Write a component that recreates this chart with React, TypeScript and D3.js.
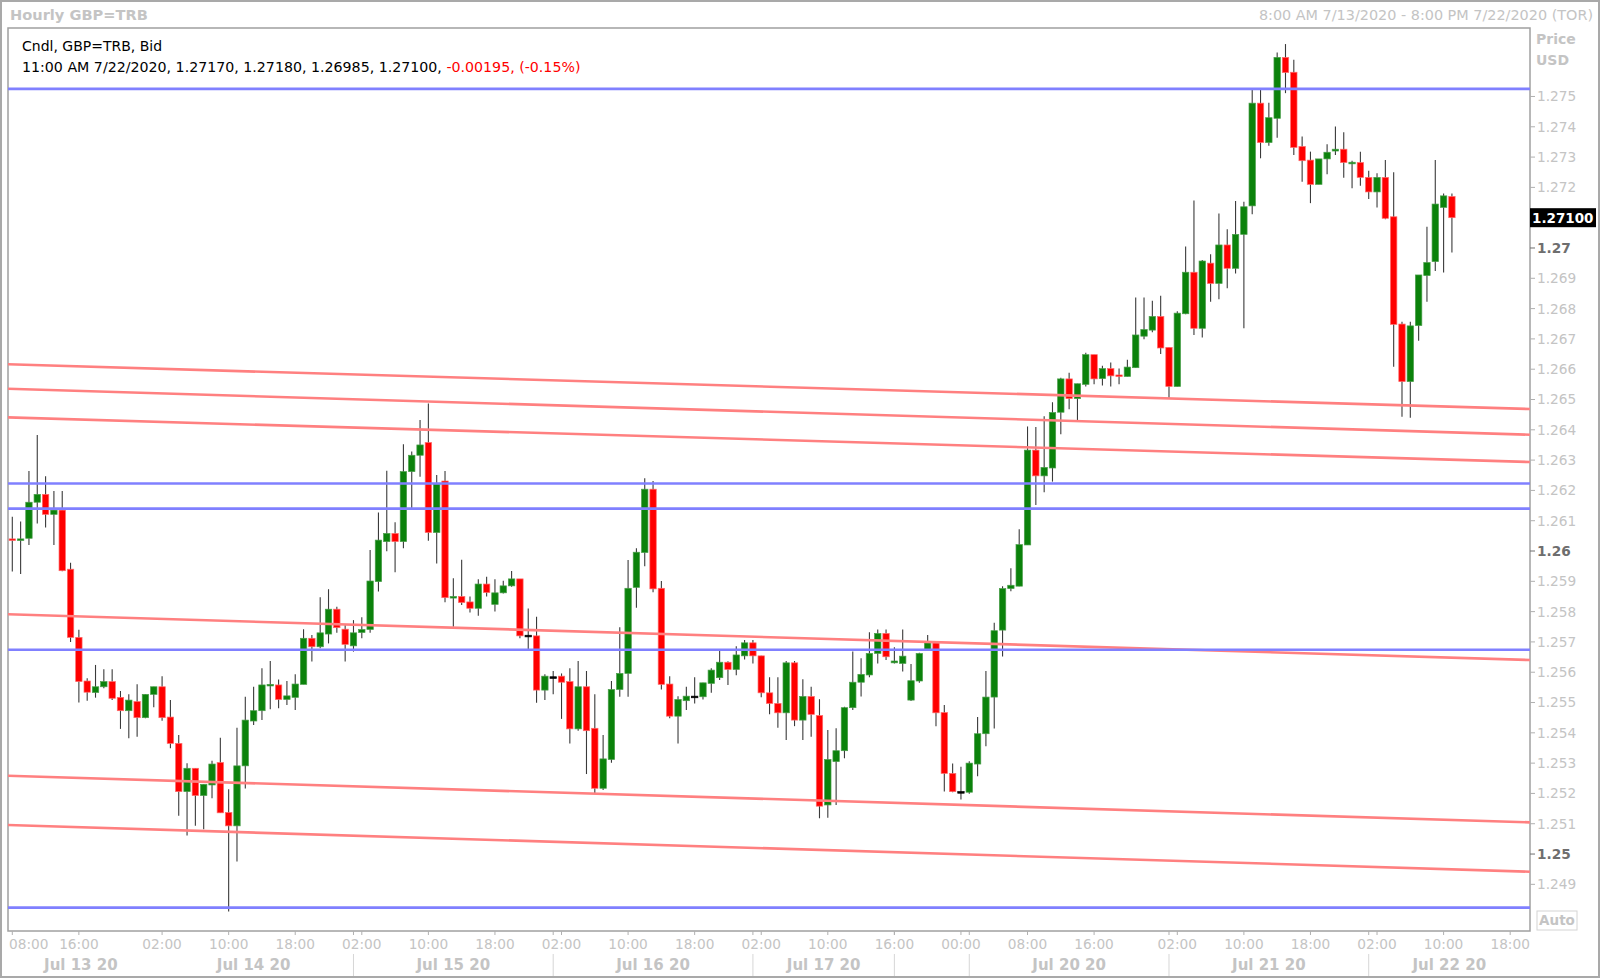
import * as d3 from 'd3'

// hourly candles, GBP=TRB bid, 08:00 Jul 13 -> 11:00 Jul 22 (weekend gap removed)
const opens = [
  1.2604, 1.26039, 1.26042, 1.26161, 1.26187, 1.26121, 1.26135, 1.2594, 1.25715, 1.25571,
  1.25533, 1.25552, 1.25569, 1.25517, 1.25473, 1.25503, 1.2545, 1.25527, 1.25552, 1.25452,
  1.25365, 1.25206, 1.25283, 1.25193, 1.25228, 1.25302, 1.25137, 1.25093, 1.25291, 1.25439,
  1.25473, 1.25558, 1.25558, 1.2551, 1.25517, 1.2556, 1.25712, 1.25684, 1.25726, 1.25808,
  1.25742, 1.25687, 1.25731, 1.25741, 1.25899, 1.26031, 1.26058, 1.26031, 1.26262, 1.26316,
  1.26358, 1.26061, 1.26231, 1.25846, 1.2585, 1.25832, 1.25811, 1.25891, 1.25824, 1.25862,
  1.25885, 1.25908, 1.25722, 1.2572, 1.25541, 1.25585, 1.25587, 1.25569, 1.25413, 1.25552,
  1.25415, 1.25217, 1.25312, 1.25543, 1.25596, 1.2588, 1.25995, 1.26204, 1.25877, 1.25561,
  1.25455, 1.25506, 1.25521, 1.25519, 1.25563, 1.25582, 1.25633, 1.25609, 1.25654, 1.25697,
  1.25654, 1.25532, 1.25497, 1.25466, 1.25631, 1.25442, 1.2552, 1.25457, 1.25162, 1.25305,
  1.25341, 1.25483, 1.25567, 1.25591, 1.25662, 1.25728, 1.25631, 1.25629, 1.25508, 1.25571,
  1.25675, 1.25697, 1.25467, 1.25266, 1.25206, 1.25204, 1.25297, 1.25397, 1.25518, 1.25739,
  1.25876, 1.25884, 1.2602, 1.26333, 1.26248, 1.26274, 1.26458, 1.26568, 1.26503, 1.2655,
  1.26648, 1.26569, 1.26602, 1.26581, 1.26576, 1.26605, 1.26709, 1.26729, 1.26774, 1.26672,
  1.26543, 1.26783, 1.2692, 1.26735, 1.2695, 1.26883, 1.2701, 1.26933, 1.27045, 1.27139,
  1.27478, 1.27348, 1.27428, 1.27629, 1.2758, 1.27335, 1.2729, 1.2721, 1.27294, 1.2732,
  1.27326, 1.2728, 1.27282, 1.27233, 1.27185, 1.27233, 1.27103, 1.26749, 1.26559, 1.26744,
  1.26909, 1.26955, 1.27134, 1.2717,
]
const highs = [
  1.26113, 1.26097, 1.26264, 1.26383, 1.26247, 1.26198, 1.26198, 1.25961, 1.2574, 1.2558,
  1.25624, 1.2561, 1.2561, 1.25538, 1.25527, 1.2556, 1.25527, 1.25552, 1.25587, 1.25508,
  1.25393, 1.253, 1.25283, 1.2523, 1.25308, 1.25384, 1.25214, 1.25417, 1.25519, 1.25552,
  1.25613, 1.25637, 1.25576, 1.25571, 1.25593, 1.25742, 1.25723, 1.25847, 1.25874, 1.25816,
  1.25756, 1.25772, 1.25781, 1.26003, 1.26127, 1.26265, 1.26095, 1.26352, 1.26328, 1.26432,
  1.26487, 1.26251, 1.26264, 1.2591, 1.25971, 1.2585, 1.25907, 1.25915, 1.25907, 1.25902,
  1.25934, 1.25908, 1.2581, 1.25783, 1.25593, 1.25604, 1.25596, 1.25613, 1.25637, 1.25604,
  1.25527, 1.25393, 1.25571, 1.25748, 1.2597, 1.26009, 1.2624, 1.26231, 1.25901, 1.25587,
  1.25521, 1.25552, 1.25583, 1.25565, 1.25613, 1.2567, 1.25636, 1.25686, 1.25706, 1.25706,
  1.25654, 1.25583, 1.25583, 1.25637, 1.25637, 1.25577, 1.25552, 1.25511, 1.25409, 1.25415,
  1.25486, 1.25668, 1.25646, 1.25732, 1.25741, 1.25741, 1.25682, 1.25741, 1.25627, 1.25664,
  1.25723, 1.25697, 1.25492, 1.25299, 1.25288, 1.25306, 1.25452, 1.25604, 1.25763, 1.25884,
  1.25943, 1.26072, 1.26411, 1.26409, 1.26445, 1.26491, 1.26572, 1.26588, 1.26552, 1.26654,
  1.26648, 1.26611, 1.26622, 1.26602, 1.26631, 1.26837, 1.26837, 1.26826, 1.26842, 1.26672,
  1.26791, 1.27005, 1.27157, 1.2696, 1.26979, 1.27114, 1.27062, 1.27155, 1.27153, 1.27524,
  1.27524, 1.27479, 1.27645, 1.27673, 1.27621, 1.27368, 1.27318, 1.27294, 1.27342, 1.27401,
  1.27382, 1.27288, 1.27318, 1.27255, 1.27247, 1.2729, 1.2725, 1.26757, 1.26757, 1.26911,
  1.2707, 1.2729, 1.2718, 1.2718,
]
const lows = [
  1.25932, 1.25924, 1.2602, 1.26091, 1.26078, 1.2602, 1.25933, 1.257, 1.255, 1.25506,
  1.25516, 1.25547, 1.25508, 1.25413, 1.25382, 1.25387, 1.25448, 1.25484, 1.2544, 1.25349,
  1.25126, 1.25061, 1.25093, 1.25082, 1.25184, 1.25136, 1.2481, 1.24975, 1.25216, 1.25426,
  1.25442, 1.25478, 1.25481, 1.25492, 1.25475, 1.2556, 1.25635, 1.25679, 1.25695, 1.2573,
  1.25635, 1.25668, 1.25712, 1.2573, 1.25866, 1.25999, 1.2593, 1.26009, 1.26141, 1.26245,
  1.26034, 1.25959, 1.25831, 1.2575, 1.25822, 1.25797, 1.25786, 1.2585, 1.258, 1.2586,
  1.25882, 1.25712, 1.25677, 1.25499, 1.25508, 1.25527, 1.25446, 1.25365, 1.25407, 1.25264,
  1.252, 1.25211, 1.25301, 1.25519, 1.25519, 1.25813, 1.2595, 1.25864, 1.25543, 1.25448,
  1.25365, 1.25475, 1.25497, 1.2551, 1.25532, 1.25574, 1.25558, 1.2559, 1.25642, 1.25629,
  1.25517, 1.25461, 1.25417, 1.25376, 1.25422, 1.25376, 1.25387, 1.25118, 1.2512, 1.25162,
  1.25316, 1.25475, 1.2552, 1.25583, 1.25629, 1.2564, 1.25629, 1.25602, 1.25505, 1.25565,
  1.25673, 1.25422, 1.25206, 1.25204, 1.2518, 1.25199, 1.25257, 1.25356, 1.25414, 1.25652,
  1.25867, 1.25884, 1.2602, 1.26152, 1.26194, 1.26229, 1.26385, 1.26468, 1.26432, 1.26543,
  1.2655, 1.26546, 1.26543, 1.2655, 1.26576, 1.26605, 1.26699, 1.26722, 1.2665, 1.26503,
  1.26543, 1.26781, 1.26713, 1.26705, 1.26823, 1.26831, 1.26867, 1.26916, 1.26735, 1.27111,
  1.27296, 1.27337, 1.27364, 1.27511, 1.27307, 1.27219, 1.27148, 1.2721, 1.27243, 1.27307,
  1.27232, 1.27197, 1.27205, 1.27162, 1.27134, 1.27095, 1.26608, 1.26443, 1.2644, 1.26694,
  1.26823, 1.26924, 1.26919, 1.26985,
]
const closes = [
  1.26038, 1.2604, 1.26161, 1.26187, 1.26121, 1.26135, 1.25935, 1.25715, 1.25569, 1.25534,
  1.25552, 1.25569, 1.25514, 1.25473, 1.25508, 1.2545, 1.25527, 1.25552, 1.2545, 1.25365,
  1.25206, 1.25283, 1.25193, 1.2523, 1.25297, 1.25136, 1.25093, 1.25291, 1.25442, 1.25473,
  1.25558, 1.2556, 1.2551, 1.25522, 1.25561, 1.25712, 1.25684, 1.2573, 1.25808, 1.25747,
  1.25692, 1.2573, 1.25741, 1.25901, 1.26036, 1.26058, 1.26031, 1.26262, 1.26316, 1.2635,
  1.26061, 1.26221, 1.25846, 1.2585, 1.2583, 1.25811, 1.25891, 1.25863, 1.25862, 1.25885,
  1.25908, 1.2572, 1.25722, 1.25541, 1.25587, 1.25585, 1.25567, 1.25413, 1.25552, 1.25407,
  1.25217, 1.25314, 1.25543, 1.25596, 1.25877, 1.25996, 1.26204, 1.25875, 1.2556, 1.25455,
  1.2551, 1.25521, 1.25521, 1.25565, 1.25607, 1.25633, 1.25609, 1.25657, 1.25697, 1.25654,
  1.25532, 1.25497, 1.25466, 1.25631, 1.25442, 1.2552, 1.25461, 1.25158, 1.25312, 1.25341,
  1.25483, 1.25567, 1.25593, 1.25662, 1.25728, 1.25651, 1.25637, 1.25653, 1.25572, 1.25662,
  1.25697, 1.25466, 1.25266, 1.25206, 1.25206, 1.253, 1.25397, 1.25518, 1.25737, 1.25876,
  1.25887, 1.26021, 1.26333, 1.26248, 1.26276, 1.26457, 1.26568, 1.26503, 1.26552, 1.26648,
  1.26568, 1.26602, 1.26578, 1.26578, 1.26607, 1.26713, 1.26731, 1.26774, 1.2667, 1.26543,
  1.26785, 1.2692, 1.26735, 1.26957, 1.26883, 1.2701, 1.26933, 1.27045, 1.27136, 1.27478,
  1.27348, 1.2743, 1.27629, 1.27579, 1.27332, 1.27288, 1.2721, 1.27294, 1.27316, 1.27326,
  1.27282, 1.27283, 1.27233, 1.27185, 1.27233, 1.27098, 1.26748, 1.26559, 1.26743, 1.26911,
  1.26952, 1.27145, 1.27172, 1.271,
]

// x axis: candle index of each time label, and day boundaries (index units)
const timeTickIdx = [0, 8, 18, 26, 34, 42, 50, 58, 66, 74, 82, 90, 98, 106, 114, 122, 130, 140, 148, 156, 164, 172, 180]
const timeTickLabels = ['08:00', '16:00', '02:00', '10:00', '18:00', '02:00', '10:00', '18:00', '02:00', '10:00', '18:00',
  '02:00', '10:00', '16:00', '00:00', '08:00', '16:00', '02:00', '10:00', '18:00', '02:00', '10:00', '18:00']
const dayBounds = [-0.52, 17, 41, 65, 89, 106, 115, 139, 163, 182.37]
const dayLabels = ['Jul 13 20', 'Jul 14 20', 'Jul 15 20', 'Jul 16 20', 'Jul 17 20', '', 'Jul 20 20', 'Jul 21 20', 'Jul 22 20']

// y axis
const priceTicks = d3.range(1249, 1276).map(v => v / 1000)
const majorTicks = [1.25, 1.26, 1.27]
const lastPrice = 1.271

// drawn studies: horizontal levels and sloped channel lines (price at left / right edge)
const blueLevels = [1.27525, 1.26223, 1.2614, 1.25674, 1.24823]
const trendLeft = [1.266162, 1.265353, 1.264409, 1.257911, 1.252584, 1.250957]
const trendRight = [1.264686, 1.263838, 1.262937, 1.256403, 1.251046, 1.249416]

const W = 1600
const H = 978
const plot = { left: 8, top: 28, right: 1530, bottom: 931 }
const FONT = '"DejaVu Sans", Verdana, sans-serif'
const GREY = '#c4c4c4'

export default function App() {
  const x = d3.scaleLinear().domain([0, 172]).range([12.3, 1443.6])
  const y = d3.scaleLinear().domain([1.24746, 1.27726]).range([plot.bottom, plot.top])
  const bodyW = 6.4

  const candles = opens.map((o, i) => ({ i, o, h: highs[i], l: lows[i], c: closes[i] }))
  const idxL = dayBounds[0]
  const idxR = dayBounds[dayBounds.length - 1]

  return (
    <div style={{ position: 'fixed', left: 0, top: 0 }}>
      <svg width={W} height={H} style={{ display: 'block', background: '#fff' }}>
        <defs>
          <clipPath id="plotClip">
            <rect x={plot.left} y={plot.top} width={plot.right - plot.left} height={plot.bottom - plot.top} />
          </clipPath>
        </defs>
        <rect x={1} y={1} width={W - 2} height={H - 2} fill="#fff" stroke="#a9a9a9" strokeWidth={2} />

        {/* title row */}
        <text x={10} y={20} fontFamily={FONT} fontSize={14.6} fontWeight="bold" fill={GREY}>Hourly GBP=TRB</text>
        <text x={1593} y={20} textAnchor="end" fontFamily={FONT} fontSize={14.4} fill={GREY}>
          8:00 AM 7/13/2020 - 8:00 PM 7/22/2020 (TOR)
        </text>

        {/* plot frame */}
        <rect x={plot.left} y={plot.top} width={plot.right - plot.left} height={plot.bottom - plot.top}
          fill="#fff" stroke="#a0a0a0" strokeWidth={1.5} />

        <g clipPath="url(#plotClip)">
          {candles.map(d => {
            const cx = x(d.i)
            const up = d.c > d.o
            const flat = d.c === d.o
            const top = y(Math.max(d.o, d.c))
            const bot = y(Math.min(d.o, d.c))
            const hgt = Math.max(bot - top, 1.6)
            const fill = flat ? '#000' : up ? '#0b820b' : '#ff0000'
            const edge = flat ? '#000' : up ? '#4a9e4a' : '#ff6a6a'
            return (
              <g key={d.i}>
                <line x1={cx} x2={cx} y1={y(d.h)} y2={y(d.l)} stroke="#3a3a3a" strokeWidth={1.1} />
                <rect x={cx - bodyW / 2} y={top} width={bodyW} height={hgt} fill={fill} stroke={edge} strokeWidth={0.7} />
              </g>
            )
          })}

          {trendLeft.map((p, k) => (
            <line key={'t' + k} x1={x(idxL)} x2={x(idxR)} y1={y(p)} y2={y(trendRight[k])}
              stroke="#ff8080" strokeWidth={2.6} />
          ))}
          {blueLevels.map((p, k) => (
            <line key={'b' + k} x1={plot.left} x2={plot.right} y1={y(p)} y2={y(p)} stroke="#8080ff" strokeWidth={2.6} />
          ))}
        </g>

        {/* legend text */}
        <text x={22} y={51} fontFamily={FONT} fontSize={14} fill="#000">Cndl, GBP=TRB, Bid</text>
        <text x={22} y={72} fontFamily={FONT} fontSize={14.2} fill="#000">
          11:00 AM 7/22/2020, 1.27170, 1.27180, 1.26985, 1.27100, <tspan fill="#ff0000">-0.00195, (-0.15%)</tspan>
        </text>

        {/* price axis */}
        <text x={1536} y={44} fontFamily={FONT} fontSize={14} fontWeight="bold" fill={GREY}>Price</text>
        <text x={1536} y={65} fontFamily={FONT} fontSize={14} fontWeight="bold" fill={GREY}>USD</text>
        {priceTicks.map(p => {
          const major = majorTicks.some(m => Math.abs(m - p) < 1e-9)
          const hidden = Math.abs(p - lastPrice) < 1e-9
          return (
            <g key={p}>
              <line x1={plot.right} x2={plot.right + 5} y1={y(p)} y2={y(p)} stroke={major ? '#707070' : '#b0b0b0'} />
              {!hidden && (
                <text x={1537} y={y(p)} dy="0.36em" fontFamily={FONT} fontSize={13.7}
                  fontWeight={major ? 'bold' : 'normal'} fill={major ? '#6e6e6e' : GREY}>
                  {major ? p.toFixed(2) : p.toFixed(3)}
                </text>
              )}
            </g>
          )
        })}
        <rect x={plot.right} y={y(lastPrice) - 9.5} width={66} height={19} fill="#000" />
        <text x={plot.right + 2} y={y(lastPrice)} dy="0.36em" fontFamily={FONT} fontSize={13.5} fontWeight="bold" fill="#fff">
          {lastPrice.toFixed(5)}
        </text>
        <rect x={1537} y={911} width={40} height={19} fill="#fff" stroke="#d4d4d4" />
        <text x={1557} y={925} textAnchor="middle" fontFamily={FONT} fontSize={13.5} fontWeight="bold" fill={GREY}>Auto</text>

        {/* time axis */}
        {timeTickIdx.map((t, k) => (
          <g key={'x' + k}>
            <line x1={x(t)} x2={x(t)} y1={plot.bottom} y2={plot.bottom + 4} stroke="#b0b0b0" />
            <text x={k === 0 ? plot.left + 1 : x(t)} y={949} textAnchor={k === 0 ? 'start' : 'middle'}
              fontFamily={FONT} fontSize={13.7} fill={GREY}>{timeTickLabels[k]}</text>
          </g>
        ))}
        {dayBounds.slice(2, -1).map((b, k) => (
          <g key={'s' + k}>
            <line x1={x(b)} x2={x(b)} y1={plot.bottom} y2={plot.bottom + 4} stroke="#b0b0b0" />
            <line x1={x(b)} x2={x(b)} y1={954} y2={976} stroke="#d6d6d6" />
          </g>
        ))}
        {dayLabels.map((lab, k) => lab && (
          <text key={'d' + k} x={x((dayBounds[k] + dayBounds[k + 1]) / 2)} y={970} textAnchor="middle"
            fontFamily={FONT} fontSize={15} fontWeight="bold" fill={GREY}>{lab}</text>
        ))}
      </svg>
    </div>
  )
}
